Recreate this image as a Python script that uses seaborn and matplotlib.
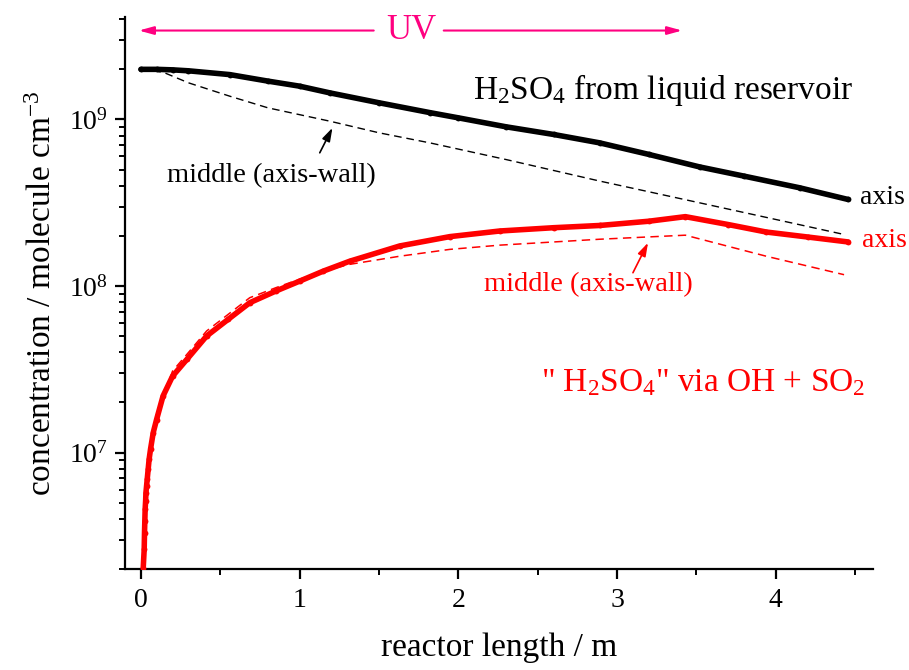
import matplotlib
matplotlib.use("Agg")
import matplotlib.pyplot as plt
from matplotlib.ticker import MultipleLocator, LogLocator, NullFormatter, LogFormatterSciNotation
import numpy as np
import pandas as pd
import seaborn as sns

# H2SO4 from the liquid reservoir, on the reactor axis
res_axis_x = [0.0, 0.1, 0.2, 0.3, 0.56, 0.8, 1.0, 1.19, 1.5, 1.82, 2.0, 2.3, 2.6,
              2.89, 3.2, 3.52, 3.8, 4.15, 4.455]
res_axis_y = [2.0e9, 2.0e9, 1.986e9, 1.96e9, 1.86e9, 1.70e9, 1.585e9, 1.445e9, 1.26e9,
              1.10e9, 1.023e9, 9.04e8, 8.13e8, 7.24e8, 6.17e8, 5.19e8, 4.57e8, 3.89e8, 3.31e8]

# H2SO4 from the liquid reservoir, midway between axis and wall
res_mid_x = [0.0, 0.05, 0.15, 0.3, 0.56, 0.8, 1.19, 1.5, 1.82, 2.3, 2.89, 3.52, 4.0, 4.43]
res_mid_y = [2.0e9, 1.995e9, 1.905e9, 1.66e9, 1.38e9, 1.175e9, 9.77e8, 8.32e8, 7.24e8,
             5.75e8, 4.27e8, 3.16e8, 2.51e8, 2.04e8]

# H2SO4 formed via OH + SO2, on the reactor axis
oh_axis_x = [0.015, 0.021, 0.023, 0.025, 0.027, 0.030, 0.032, 0.036, 0.040, 0.046, 0.052,
             0.061, 0.078, 0.099, 0.14, 0.20, 0.29, 0.414, 0.55, 0.686, 0.85, 1.0, 1.15,
             1.316, 1.63, 1.946, 2.26, 2.6, 2.89, 3.2, 3.43, 3.7, 3.94, 4.2, 4.455]
oh_axis_y = [2.04e6, 2.63e6, 3.31e6, 3.89e6, 4.57e6, 5.13e6, 5.75e6, 6.31e6, 6.92e6, 7.94e6,
             9.12e6, 1.05e7, 1.32e7, 1.58e7, 2.19e7, 2.88e7, 3.63e7, 5.01e7, 6.31e7, 7.94e7,
             9.33e7, 1.07e8, 1.23e8, 1.41e8, 1.74e8, 1.98e8, 2.14e8, 2.24e8, 2.31e8, 2.45e8,
             2.61e8, 2.34e8, 2.11e8, 1.97e8, 1.84e8]

# H2SO4 formed via OH + SO2, midway between axis and wall
oh_mid_x = [0.015, 0.03, 0.052, 0.099, 0.20, 0.29, 0.414, 0.55, 0.686, 0.85, 1.0, 1.15,
            1.316, 1.63, 1.946, 2.26, 2.89, 3.43, 3.94, 4.43]
oh_mid_y = [2.04e6, 5.25e6, 9.55e6, 1.70e7, 3.09e7, 3.89e7, 5.37e7, 6.76e7, 8.51e7, 9.77e7,
            1.10e8, 1.23e8, 1.35e8, 1.51e8, 1.66e8, 1.76e8, 1.91e8, 2.02e8, 1.51e8, 1.17e8]

# irradiated section of the reactor
uv_start, uv_end = 0.0, 3.41
x_ticks = [0, 1, 2, 3, 4]

sns.set_theme(style="ticks")
plt.rcParams["font.family"] = ["Liberation Serif", "DejaVu Serif"]
plt.rcParams["mathtext.fontset"] = "custom"
plt.rcParams["mathtext.rm"] = "Liberation Serif"
plt.rcParams["mathtext.it"] = "Liberation Serif:italic"
plt.rcParams["mathtext.bf"] = "Liberation Serif:bold"
plt.rcParams["text.color"] = "black"
plt.rcParams["axes.labelcolor"] = "black"

fig = plt.figure(figsize=(9.09, 6.70), dpi=100)
ax = fig.add_axes([0.1375, 0.1507, 0.8225, 0.8233])

BLACK = "#000000"
RED = "#FF0000"
UV = "#FF0080"

df_ra = pd.DataFrame({"x": res_axis_x, "y": res_axis_y})
df_rm = pd.DataFrame({"x": res_mid_x, "y": res_mid_y})
df_oa = pd.DataFrame({"x": oh_axis_x, "y": oh_axis_y})
df_om = pd.DataFrame({"x": oh_mid_x, "y": oh_mid_y})

sns.lineplot(data=df_rm, x="x", y="y", ax=ax, color=BLACK, lw=1.0,
             linestyle=(0, (5.5, 3.5)), zorder=2)
sns.lineplot(data=df_ra, x="x", y="y", ax=ax, color=BLACK, lw=4.0,
             marker="o", markersize=4.2, markeredgewidth=0, zorder=3,
             solid_capstyle="round", solid_joinstyle="round")
sns.lineplot(data=df_om, x="x", y="y", ax=ax, color=RED, lw=1.1,
             linestyle=(0, (5.5, 3.5)), zorder=2)
sns.lineplot(data=df_oa, x="x", y="y", ax=ax, color=RED, lw=4.0,
             marker="o", markersize=4.2, markeredgewidth=0, zorder=3,
             solid_capstyle="round", solid_joinstyle="round")

ax.set_yscale("log")
ax.set_xlim(-0.1, 4.61)
ax.set_ylim(2.0e6, 4.1e9)

ax.xaxis.set_major_locator(MultipleLocator(1))
ax.xaxis.set_minor_locator(MultipleLocator(0.5))
ax.set_xticks(x_ticks)
ax.set_xticklabels([str(t) for t in x_ticks])
ax.yaxis.set_major_locator(LogLocator(base=10))
ax.yaxis.set_minor_locator(LogLocator(base=10, subs=np.arange(2, 10)))
ax.yaxis.set_major_formatter(LogFormatterSciNotation())
ax.yaxis.set_minor_formatter(NullFormatter())

for side in ["top", "right"]:
    ax.spines[side].set_visible(False)
for side in ["left", "bottom"]:
    ax.spines[side].set_linewidth(1.6)
    ax.spines[side].set_color(BLACK)

ax.tick_params(axis="both", which="major", direction="out", length=7, width=1.6,
               labelsize=20, colors=BLACK, labelcolor=BLACK)
ax.tick_params(axis="both", which="minor", direction="out", length=4, width=1.4,
               colors=BLACK)
ax.tick_params(axis="x", which="major", pad=7)
ax.tick_params(axis="y", which="major", pad=5)

ax.set_xlabel("reactor length / m", fontsize=24, labelpad=14, color=BLACK)
ax.set_ylabel("concentration / molecule cm$^{-3}$", fontsize=24, labelpad=8, color=BLACK)

# UV span marker
ax.annotate("", xy=(uv_start - 0.013, 3.42e9), xytext=(1.467, 3.42e9),
            arrowprops=dict(arrowstyle="-|>,head_length=0.8,head_width=0.22",
                            color=UV, lw=1.5, mutation_scale=11, shrinkA=0, shrinkB=0))
ax.annotate("", xy=(uv_end, 3.42e9), xytext=(1.908, 3.42e9),
            arrowprops=dict(arrowstyle="-|>,head_length=0.8,head_width=0.22",
                            color=UV, lw=1.5, mutation_scale=11, shrinkA=0, shrinkB=0))
ax.text(1.705, 3.42e9, "UV", color=UV, fontsize=25, ha="center", va="center")

# text labels
ax.text(2.09, 10**9.12, "H$_2$SO$_4$ from liquid reservoir", fontsize=24,
        color=BLACK, ha="left", va="baseline")
ax.text(4.528, 10**8.49, "axis", fontsize=20, color=BLACK, ha="left", va="baseline")
ax.text(4.54, 10**8.232, "axis", fontsize=20, color=RED, ha="left", va="baseline")
ax.text(0.162, 10**8.622, "middle (axis-wall)", fontsize=20.5, color=BLACK,
        ha="left", va="baseline")
ax.text(2.16, 10**7.97, "middle (axis-wall)", fontsize=20.5, color=RED,
        ha="left", va="baseline")
ax.text(2.523, 10**7.37, '" H$_2$SO$_4$" via OH + SO$_2$', fontsize=24, color=RED,
        ha="left", va="baseline")

# pointers to the mid-radius curves
ax.annotate("", xy=(1.207, 10**8.95), xytext=(1.127, 10**8.80),
            arrowprops=dict(arrowstyle="-|>,head_length=0.8,head_width=0.25",
                            color=BLACK, lw=1.2, mutation_scale=10, shrinkA=0, shrinkB=0))
ax.annotate("", xy=(3.195, 10**8.26), xytext=(3.10, 10**8.08),
            arrowprops=dict(arrowstyle="-|>,head_length=0.8,head_width=0.25",
                            color=RED, lw=1.2, mutation_scale=10, shrinkA=0, shrinkB=0))

fig.savefig("out.png", dpi=100)
